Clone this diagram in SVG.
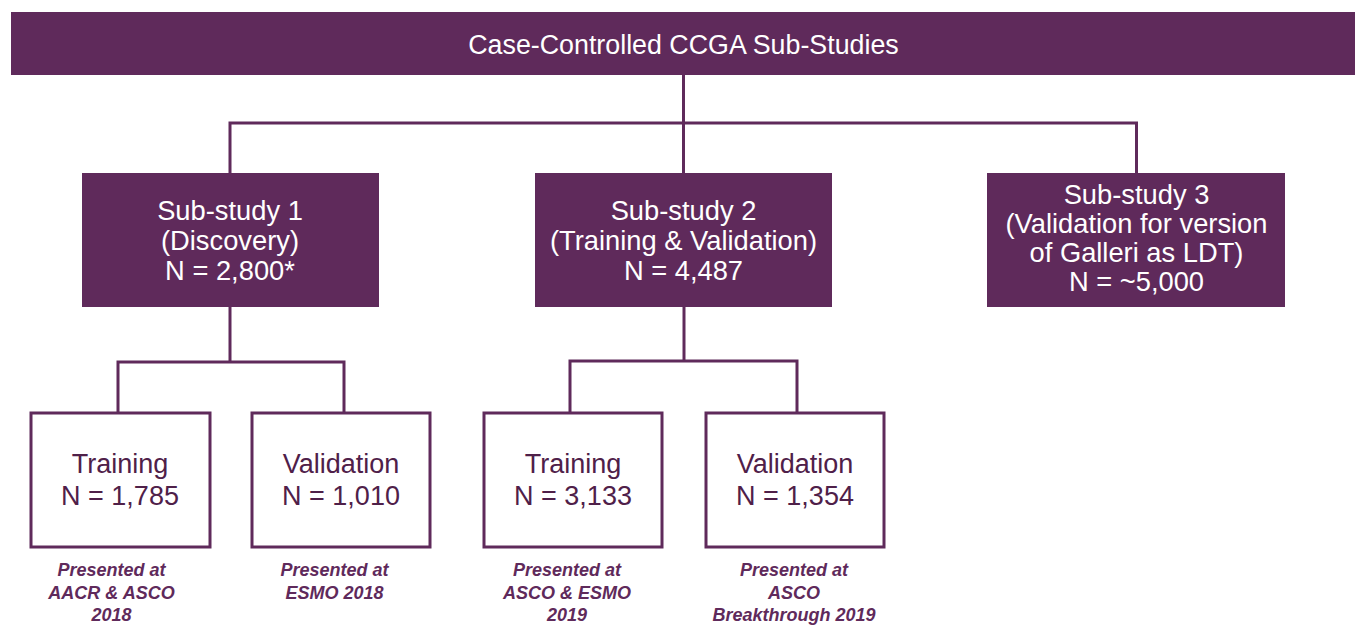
<svg xmlns="http://www.w3.org/2000/svg" width="1367" height="643" viewBox="0 0 1367 643">
<style>
.pbox{fill:#5f2a5b;}
.wbox{fill:#ffffff;stroke:#5f2a5b;stroke-width:3;}
.pt{font-family:"Liberation Sans",Arial,sans-serif;font-size:27.3px;fill:#ffffff;text-anchor:middle;}
.tt{font-family:"Liberation Sans",Arial,sans-serif;font-size:26.8px;fill:#ffffff;text-anchor:middle;}
.wt{font-family:"Liberation Sans",Arial,sans-serif;font-size:27px;fill:#4f2049;text-anchor:middle;}
.lbl{font-family:"Liberation Sans",Arial,sans-serif;font-size:18px;font-weight:bold;font-style:italic;fill:#5f2a5b;text-anchor:middle;}
.conn{fill:none;stroke:#5f2a5b;stroke-width:3;}
</style>
<rect width="1367" height="643" fill="#ffffff"/>
<g id="connectors">
<polyline class="conn" points="683.5,75 683.5,123"/>
<polyline class="conn" points="230,173 230,123 1136.5,123 1136.5,173"/>
<polyline class="conn" points="683.5,123 683.5,173"/>
<polyline class="conn" points="230,307 230,362"/>
<polyline class="conn" points="118,413 118,362 344,362 344,413"/>
<polyline class="conn" points="684,307 684,361"/>
<polyline class="conn" points="570,413 570,361 797,361 797,413"/>
</g>
<g id="top">
<rect class="pbox" x="11" y="12" width="1344" height="63"/>
<text class="tt" x="683.5" y="54">Case-Controlled CCGA Sub-Studies</text>
</g>
<g id="sub1">
<rect class="pbox" x="82" y="173" width="297" height="134"/>
<text class="pt" x="230" y="220">Sub-study 1</text>
<text class="pt" x="230" y="250">(Discovery)</text>
<text class="pt" x="230" y="280">N = 2,800*</text>
</g>
<g id="sub2">
<rect class="pbox" x="535" y="173" width="297" height="134"/>
<text class="pt" x="683.5" y="220">Sub-study 2</text>
<text class="pt" x="683.5" y="250">(Training &amp; Validation)</text>
<text class="pt" x="683.5" y="280">N = 4,487</text>
</g>
<g id="sub3">
<rect class="pbox" x="987" y="173" width="298" height="134"/>
<text class="pt" x="1136.5" y="204">Sub-study 3</text>
<text class="pt" x="1136.5" y="233">(Validation for version</text>
<text class="pt" x="1136.5" y="262">of Galleri as LDT)</text>
<text class="pt" x="1136.5" y="291">N = ~5,000</text>
</g>
<g id="train1">
<rect class="wbox" x="31" y="413" width="179" height="134"/>
<text class="wt" x="120" y="473">Training</text>
<text class="wt" x="120" y="505">N = 1,785</text>
<text class="lbl" x="111.5" y="576">Presented at</text>
<text class="lbl" x="111.5" y="598.5">AACR &amp; ASCO</text>
<text class="lbl" x="111.5" y="621">2018</text>
</g>
<g id="val1">
<rect class="wbox" x="252" y="413" width="178" height="134"/>
<text class="wt" x="341" y="473">Validation</text>
<text class="wt" x="341" y="505">N = 1,010</text>
<text class="lbl" x="334.5" y="576">Presented at</text>
<text class="lbl" x="334.5" y="598.5">ESMO 2018</text>
</g>
<g id="train2">
<rect class="wbox" x="484" y="413" width="178" height="134"/>
<text class="wt" x="573" y="473">Training</text>
<text class="wt" x="573" y="505">N = 3,133</text>
<text class="lbl" x="567" y="576">Presented at</text>
<text class="lbl" x="567" y="598.5">ASCO &amp; ESMO</text>
<text class="lbl" x="567" y="621">2019</text>
</g>
<g id="val2">
<rect class="wbox" x="706" y="413" width="178" height="134"/>
<text class="wt" x="795" y="473">Validation</text>
<text class="wt" x="795" y="505">N = 1,354</text>
<text class="lbl" x="794" y="576">Presented at</text>
<text class="lbl" x="794" y="598.5">ASCO</text>
<text class="lbl" x="794" y="621">Breakthrough 2019</text>
</g>
</svg>
